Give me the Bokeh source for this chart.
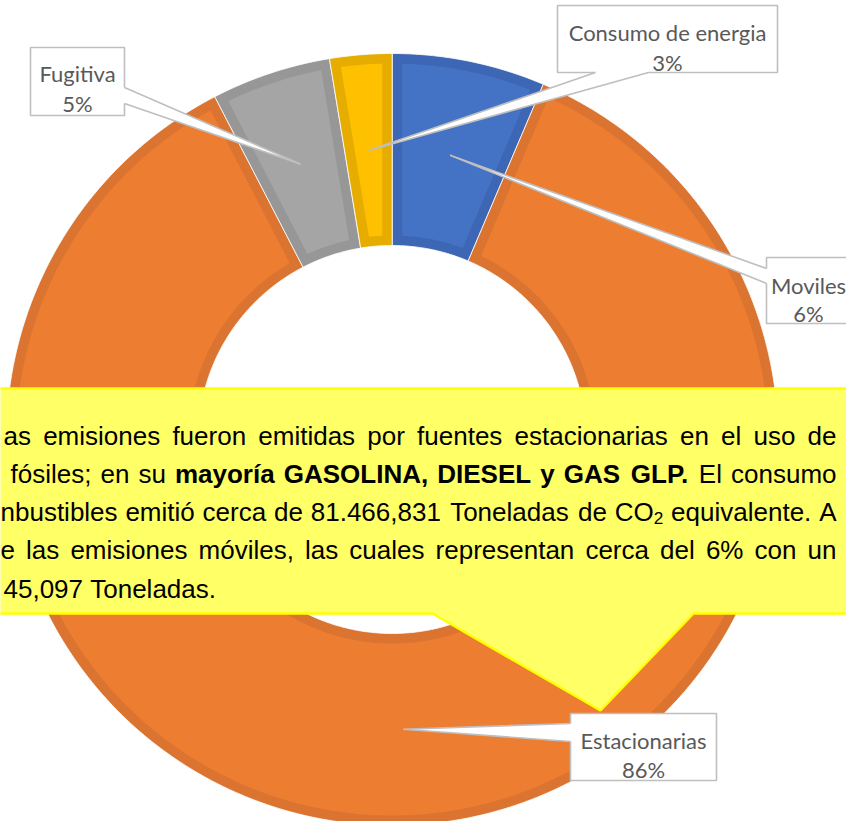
import math
from bokeh.plotting import figure
from bokeh.models import Range1d, ColumnDataSource
from bokeh.core.properties import value
from bokeh.embed import file_html
from bokeh.resources import INLINE

# ---------------- data ----------------
categories = ["Moviles", "Estacionarias", "Fugitiva", "Consumo de energia"]
shares = [6.4, 86.0, 5.0, 2.6]          # % of total emissions
main_colors = ["#4472C4", "#ED7D31", "#A5A5A5", "#FFC000"]
bevel_colors = ["#3D66B5", "#DA7430", "#979797", "#E6AD00"]

note_lines = [
    "as emisiones fueron emitidas por fuentes estacionarias en el uso de",
    "fósiles; en su **mayoría **GASOLINA, **DIESEL **y **GAS **GLP. El consumo",
    "nbustibles emitió cerca de 81.466,831 Toneladas de CO_2 equivalente.  A",
    "e las emisiones móviles, las cuales representan cerca del 6% con un",
    "45,097 Toneladas.",
]
note_justified = [True, True, True, True, False]
note_line_starts = [3, 10, 0, 0, 3]

# ---------------- layout ----------------
W, H = 846, 821
p = figure(width=W, height=H, x_range=Range1d(0, W), y_range=Range1d(H, 0),
           output_backend="svg", toolbar_location=None, min_border=0)
p.axis.visible = False
p.grid.visible = False
p.outline_line_color = None
p.background_fill_color = "white"

CX, CY = 391.7, 439.0
R_OUT, R_IN = 386.0, 194.0
BEVEL = 10.0


def polar(r, deg):
    a = math.radians(deg)
    return CX + r * math.sin(a), CY - r * math.cos(a)


def ring_patch(a0, a1, inset=0.0):
    ro, ri = R_OUT - inset, R_IN + inset
    do = math.degrees(math.asin(inset / ro))
    di = math.degrees(math.asin(inset / ri))
    n = max(8, int(abs(a1 - a0)) * 2)
    xs, ys = [], []
    s0, s1 = a0 + do, a1 - do
    for k in range(n + 1):
        x, y = polar(ro, s0 + (s1 - s0) * k / n)
        xs.append(x); ys.append(y)
    s0, s1 = a1 - di, a0 + di
    for k in range(n + 1):
        x, y = polar(ri, s0 + (s1 - s0) * k / n)
        xs.append(x); ys.append(y)
    return xs, ys


total = sum(shares)
starts, ends = [], []
acc = 0.0
for s in shares:
    starts.append(acc)
    acc += 360.0 * s / total
    ends.append(acc)

outer_xs, outer_ys, inner_xs, inner_ys = [], [], [], []
for a0, a1 in zip(starts, ends):
    xs, ys = ring_patch(a0, a1)
    outer_xs.append(xs); outer_ys.append(ys)
    xs, ys = ring_patch(a0, a1, BEVEL)
    inner_xs.append(xs); inner_ys.append(ys)

p.patches(xs="xs", ys="ys", fill_color="fc", line_color="white", line_width=0.8,
          source=ColumnDataSource(dict(xs=outer_xs, ys=outer_ys, fc=bevel_colors)))
p.patches(xs="xs", ys="ys", fill_color="fc", line_color=None,
          source=ColumnDataSource(dict(xs=inner_xs, ys=inner_ys, fc=main_colors)))

# ---------------- yellow note ----------------
note_x = [-5, 860, 860, 693, 600, 432, -5]
note_y = [388, 388, 613, 613, 710, 613, 613]
p.patch(note_x, note_y, fill_color="#FFFF66", line_color="#FFFF00", line_width=2.5)

REG = {' ': 278, ',': 278, '.': 278, ';': 278, ':': 278, '%': 889, '_': 0,
       'A': 667, 'B': 667, 'C': 722, 'D': 722, 'E': 667, 'F': 611, 'G': 778, 'H': 722, 'I': 278,
       'L': 556, 'M': 833, 'N': 722, 'O': 778, 'P': 667, 'S': 667, 'T': 611, 'Y': 667,
       'a': 556, 'b': 556, 'c': 500, 'd': 556, 'e': 556, 'f': 278, 'g': 556, 'h': 556, 'i': 222,
       'j': 222, 'k': 500, 'l': 222, 'm': 833, 'n': 556, 'o': 556, 'p': 556, 'q': 556, 'r': 333,
       's': 500, 't': 278, 'u': 556, 'v': 500, 'w': 722, 'x': 500, 'y': 500, 'z': 500,
       'á': 556, 'é': 556, 'í': 278, 'ó': 556, 'ú': 556}
BOLD = {' ': 278, ',': 278, '.': 278, ';': 333,
        'A': 722, 'D': 722, 'E': 667, 'G': 778, 'I': 278, 'L': 611, 'N': 722, 'O': 778,
        'P': 667, 'S': 667,
        'a': 556, 'm': 889, 'o': 611, 'r': 389, 'y': 556, 'í': 278}
NOTE_FONT = "Liberation Sans"
FS = 26.0
SUB_FS = FS * 0.66


def wwidth(word, bold, fs=None):
    fs = FS if fs is None else fs
    tab = BOLD if bold else REG
    tot = 0.0
    for ch in word:
        if ch.isdigit():
            tot += 556
        else:
            tot += tab.get(ch, REG.get(ch, 556))
    return tot / 1000.0 * fs


NOTE_RIGHT = 836.0
BASE0, LEAD = 435.0, 38.3
reg_src = dict(x=[], y=[], t=[], al=[])
bold_src = dict(x=[], y=[], t=[], al=[])
sub_src = dict(x=[], y=[], t=[])
for li, (line, just, x0) in enumerate(zip(note_lines, note_justified, note_line_starts)):
    words = []
    for tok in line.split():
        b = False
        if tok.startswith("**"):
            tok = tok[2:]
            b = True
        words.append((tok, b))
    widths = []
    for tok, b in words:
        if "_" in tok:
            base, sub = tok.split("_")
            widths.append(wwidth(base, b) + wwidth(sub, b, SUB_FS))
        else:
            widths.append(wwidth(tok, b))
    if just and len(words) > 1:
        gap = (NOTE_RIGHT - x0 - sum(widths)) / (len(words) - 1)
    else:
        gap = 278 / 1000.0 * FS
    x = x0
    y = BASE0 + li * LEAD
    n = len(words)
    for k, ((tok, b), w) in enumerate(zip(words, widths)):
        if "_" in tok:
            base, sub = tok.split("_")
            reg_src["x"].append(x); reg_src["y"].append(y); reg_src["t"].append(base)
            reg_src["al"].append("left")
            sub_src["x"].append(x + wwidth(base, b)); sub_src["y"].append(y + 6)
            sub_src["t"].append(sub)
        else:
            tgt = bold_src if b else reg_src
            if k == 0 or not just:
                ax, al = x, "left"
            elif k == n - 1:
                ax, al = NOTE_RIGHT, "right"
            else:
                ax, al = x + w / 2, "center"
            tgt["x"].append(ax); tgt["y"].append(y); tgt["t"].append(tok); tgt["al"].append(al)
        x += w + gap

p.text(x="x", y="y", text="t", text_align="al", source=ColumnDataSource(reg_src),
       text_font=value(NOTE_FONT), text_font_size=value(f"{FS}px"), text_color="black",
       text_baseline="alphabetic")
p.text(x="x", y="y", text="t", text_align="al", source=ColumnDataSource(bold_src),
       text_font=value(NOTE_FONT), text_font_style="bold", text_font_size=value(f"{FS}px"),
       text_color="black", text_baseline="alphabetic")
p.text(x="x", y="y", text="t", source=ColumnDataSource(sub_src), text_font=value(NOTE_FONT),
       text_font_size=value(f"{SUB_FS:.1f}px"), text_color="black",
       text_baseline="alphabetic", text_align="left")

# ---------------- data labels (callouts) ----------------
label_boxes = {   # left, right, top, bottom (px)
    "Moviles": (766, 857, 257, 323),
    "Estacionarias": (570, 716, 713, 780),
    "Fugitiva": (30, 124, 47, 115),
    "Consumo de energia": (557, 777, 5, 72),
}
label_baselines = {
    "Moviles": (285, 313),
    "Estacionarias": (740, 769),
    "Fugitiva": (73, 103),
    "Consumo de energia": (32, 62),
}
pointer_bases = {
    "Moviles": ((766, 268), (766, 283), (2.5, 0)),
    "Estacionarias": ((570, 723), (570, 741), (2.5, 0)),
    "Fugitiva": ((124, 87), (124, 103), (-2.5, 0)),
    "Consumo de energia": ((595, 72), (648, 72), (0, -2.5)),
}
BOX_LINE = "#BFBFBF"
for cat, s, a0, a1 in zip(categories, shares, starts, ends):
    l, r, t, b = label_boxes[cat]
    p.quad(left=[l], right=[r], top=[t], bottom=[b], fill_color="white",
           line_color=BOX_LINE, line_width=1.6)
    tip = polar((R_OUT + R_IN) / 2, (a0 + a1) / 2)
    b1, b2, d = pointer_bases[cat]
    fx = [b1[0] + d[0], b1[0], tip[0], b2[0], b2[0] + d[0]]
    fy = [b1[1] + d[1], b1[1], tip[1], b2[1], b2[1] + d[1]]
    p.patch(fx, fy, fill_color="white", line_color=None)
    p.line([b1[0], tip[0], b2[0]], [b1[1], tip[1], b2[1]], line_color=BOX_LINE, line_width=1.6)
    cx = min((l + r) / 2, 808)
    y1, y2 = label_baselines[cat]
    p.text(x=[cx, cx], y=[y1, y2], text=[cat, f"{round(s)}%"], text_font=value("Lato"),
           text_font_size=value("22px"), text_color="#595959", text_align="center",
           text_baseline="alphabetic")

open("out.html", "w").write(file_html(p, INLINE))
